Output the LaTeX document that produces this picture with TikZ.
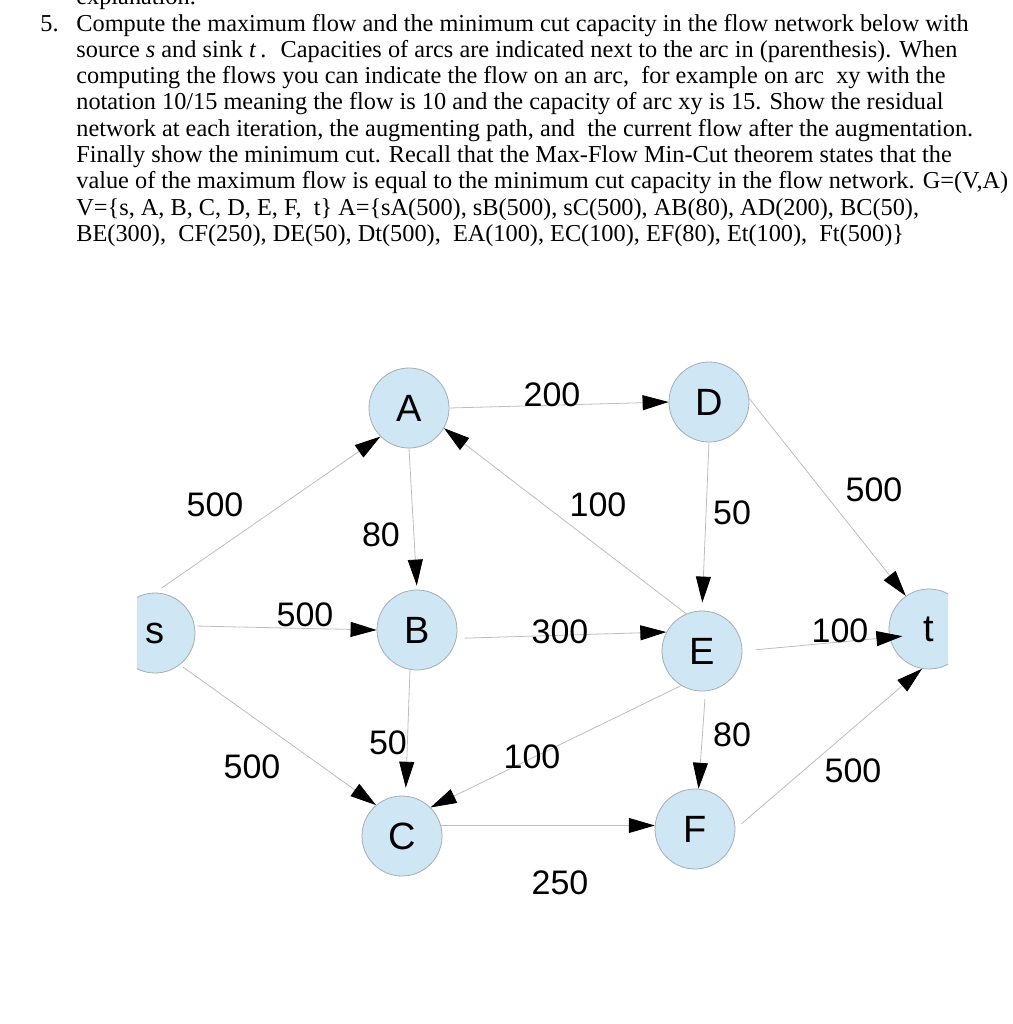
\documentclass[tikz,border=0pt]{standalone}
\usepackage{fontspec}
\setmainfont{Liberation Serif}
\setsansfont{Liberation Sans}
\usetikzlibrary{arrows.meta}
\definecolor{nodefill}{HTML}{CFE6F4}
\definecolor{nodeline}{HTML}{A3AEB5}
\definecolor{arcline}{HTML}{BDBDBD}

\begin{document}
\begin{tikzpicture}[x=0.5pt, y=-0.5pt,
    stmt/.style={anchor=base west, inner sep=0pt, font=\fontsize{12.15}{13.15}\selectfont},
    vertex/.style={circle, draw=nodeline, fill=nodefill, line width=0.4pt, minimum size=40pt, inner sep=0pt, font=\sffamily\fontsize{19}{19}\selectfont},
    flowarc/.style={draw=arcline, line width=0.4pt, -{Triangle[length=13pt, width=7.5pt, color=black]}},
    arclabel/.style={inner sep=0pt, font=\sffamily\fontsize{17}{17}\selectfont}]
    \useasboundingbox (0,0) rectangle (1013,1024);

    % problem statement
    \node[stmt] (prevline) at (76,4.7) {explanation.};
    \node[stmt] (num) at (40,31) {5.};
    \foreach \txt [count=\i from 0] in {
        {Compute the maximum flow and the minimum cut capacity in the flow network below with},
        {source \textit{s} and sink \textit{t}\,.~ Capacities of arcs are indicated next to the arc in (parenthesis). When},
        {computing the flows you can indicate the flow on an arc,~ for example on arc~ xy with the},
        {notation 10/15 meaning the flow is 10 and the capacity of arc xy is 15. Show the residual},
        {network at each iteration, the augmenting path, and~ the current flow after the augmentation.},
        {Finally show the minimum cut. Recall that the Max-Flow Min-Cut theorem states that the},
        {value of the maximum flow is equal to the minimum cut capacity in the flow network. G=(V,A)},
        {V=\{s, A, B, C, D, E, F,~ t\} A=\{sA(500), sB(500), sC(500), AB(80), AD(200), BC(50),},
        {BE(300),~ CF(250), DE(50), Dt(500),~ EA(100), EC(100), EF(80), Et(100),~ Ft(500)\}}}
        \node[stmt] (line\i) at (76,{31+26.3*\i}) {\txt};

    % vertices
    \begin{scope}
        \clip (137,300) rectangle (948,950);
        \node[vertex] (s) at (155,633) {s};
        \node[vertex] (A) at (409,408) {A};
        \node[vertex] (B) at (417,630) {B};
        \node[vertex] (C) at (402,836) {C};
        \node[vertex] (D) at (709,402) {D};
        \node[vertex] (E) at (702,651) {E};
        \node[vertex] (F) at (695,829) {F};
        \node[vertex] (t) at (929,629) {t};
    \end{scope}

    % arcs
    \draw[flowarc, shorten <=4pt] (s.north) -- (A.225);
    \draw[flowarc, shorten <=1pt] (s.10) -- (B.west);
    \draw[flowarc, shorten <=2pt] (s.-52) -- (C.130);
    \draw[flowarc, shorten >=2pt] (A.south) -- (B.north);
    \draw[flowarc] (A.east) -- (D.west);
    \draw[flowarc] (D.5) -- (t.125);
    \draw[flowarc, shorten >=4pt] (D.south) -- (E.north);
    \draw[flowarc] (E.113) -- (A.330);
    \draw[flowarc, shorten <=4pt] (B.-12) -- (E.152);
    \draw[flowarc, shorten <=7pt, shorten >=-6.5pt] (E.east) -- (t.192);
    \draw[flowarc, shorten >=4pt] (B.260) -- (C.85);
    \draw[flowarc] (E.239) -- (C.45);
    \draw[flowarc, shorten <=4pt] (E.-85) -- (F.85);
    \draw[flowarc] (C.15) -- (F.175);
    \draw[flowarc, shorten <=4pt] (F.east) -- (t.260);

    % capacities
    \node[arclabel] (capsA) at (215,505) {500};
    \node[arclabel] (capsB) at (305,615) {500};
    \node[arclabel] (capsC) at (252,767) {500};
    \node[arclabel] (capAB) at (381,535) {80};
    \node[arclabel] (capAD) at (552,395) {200};
    \node[arclabel] (capEA) at (598,505) {100};
    \node[arclabel] (capDE) at (732,513) {50};
    \node[arclabel] (capDt) at (874,490) {500};
    \node[arclabel] (capBE) at (560,632) {300};
    \node[arclabel] (capEt) at (840,631) {100};
    \node[arclabel] (capBC) at (388,743) {50};
    \node[arclabel] (capEC) at (532,757) {100};
    \node[arclabel] (capEF) at (732,735) {80};
    \node[arclabel] (capFt) at (853,771) {500};
    \node[arclabel] (capCF) at (560,883) {250};
\end{tikzpicture}
\end{document}
